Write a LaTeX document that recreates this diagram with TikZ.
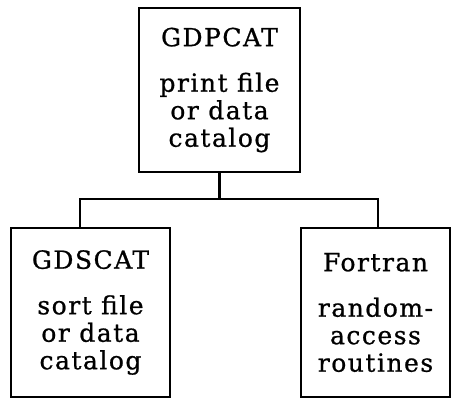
\documentclass[tikz,border=0pt]{standalone}
\usepackage{fontspec}
\setmainfont{DejaVu Serif}[LetterSpace=6,FakeBold=0.8]
\usepackage{tikz}

\begin{document}
\begin{tikzpicture}[x=1pt,y=1pt,
    routine/.style={draw,line width=1.8pt,inner sep=0pt,align=center,
      font=\fontsize{25}{27.5}\selectfont},
    link/.style={line width=2.6pt}]
  \useasboundingbox (0,0) rectangle (452,401);
  \node[routine,minimum width=161,minimum height=164] (gdpcat) at (219.5,311)
       {GDPCAT\\[18pt] print file\\ or data\\ catalog};
  \node[routine,minimum width=159,minimum height=169] (gdscat) at (90.5,88.5)
       {GDSCAT\\[18pt] sort file\\ or data\\ catalog};
  \node[routine,minimum width=149,minimum height=169] (fortran) at (375.5,88.5)
       {Fortran\\[18pt] random-\\ access\\ routines};
  \coordinate (split) at ([yshift=-26]gdpcat.south);
  \draw[link] (gdpcat.south) -- (split);
  \draw[link] (split) -| ([xshift=-10.5]gdscat.north);
  \draw[link] (split) -| ([xshift=2.5]fortran.north);
\end{tikzpicture}
\end{document}
